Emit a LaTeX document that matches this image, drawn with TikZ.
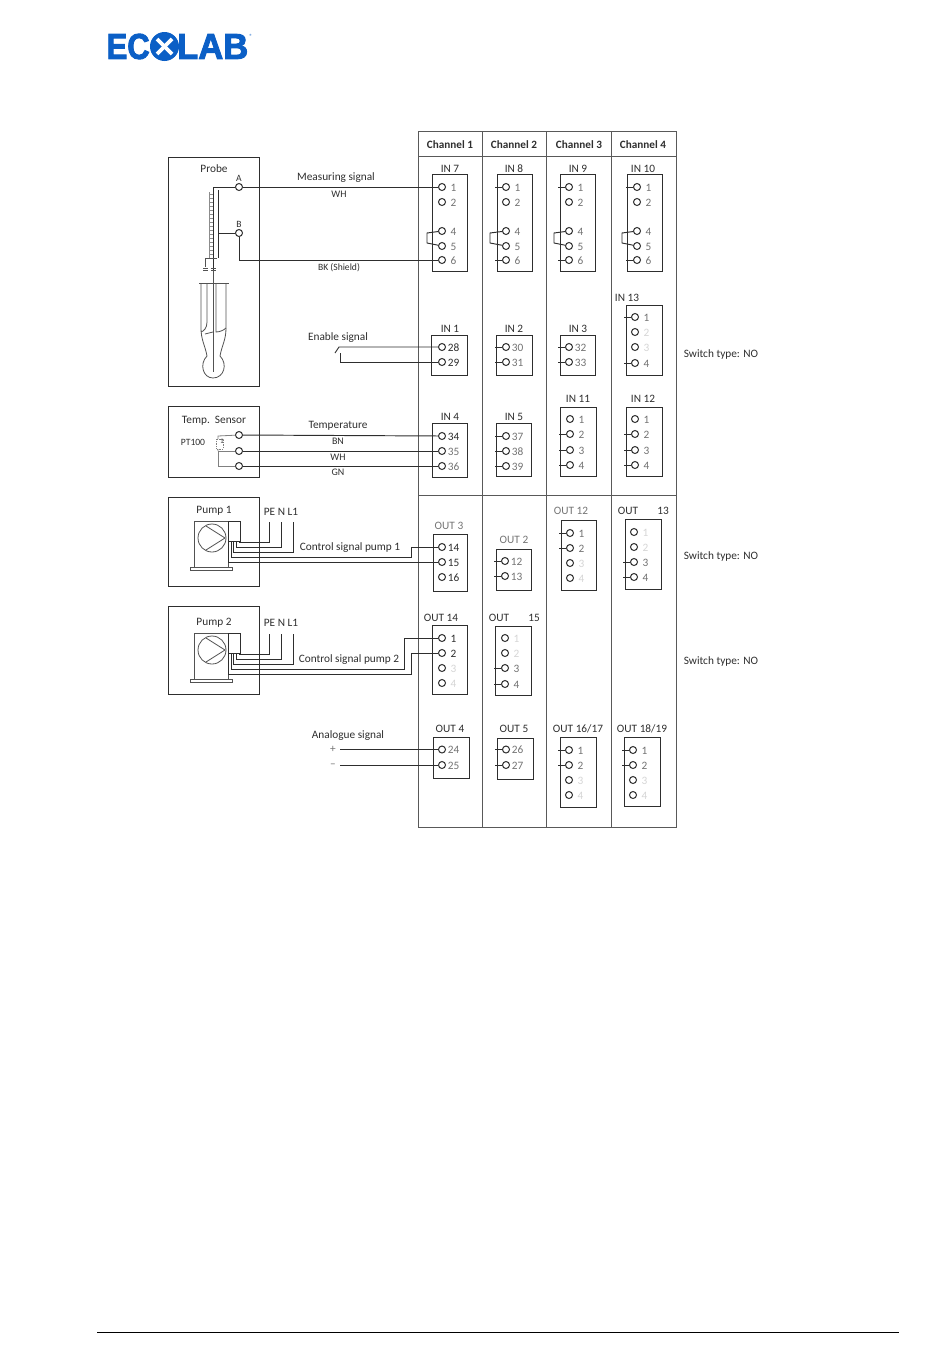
\documentclass[tikz,border=0pt]{standalone}
\usepackage{fontspec}
\setmainfont{Carlito}
\newfontfamily\logofont[BoldFeatures={FakeBold=2.6}]{Liberation Sans}
\usetikzlibrary{positioning}
\definecolor{logoblue}{HTML}{0B5FC6}
\definecolor{ink}{HTML}{2E2E2E}
\tikzset{
  tag/.style={font=\fontsize{11.3}{13}\selectfont,text=ink,inner sep=0pt,yshift=-.6pt},
  headtag/.style={tag,font=\fontsize{11.2}{13}\selectfont\bfseries},
  smalltag/.style={tag,font=\fontsize{9.6}{11}\selectfont},
  graytag/.style={tag,text=black!55},
  fainttag/.style={tag,text=black!16},
  pin/.style={circle,draw=ink,fill=white,line width=1pt,minimum size=7pt,inner sep=0pt},
  blockbox/.style={draw=ink,line width=1pt,fill=white,anchor=north west,inner sep=0pt},
  devicebox/.style={draw=ink,line width=1pt,anchor=north west,inner sep=0pt},
  wire/.style={draw=ink,line width=.95pt},
  thinwire/.style={draw=black!68,line width=.8pt},
  grid/.style={draw=black!65,line width=1pt}
}
% terminal: block-text, x, y, text, style of the text
\newcommand{\term}[5]{%
  \node[pin] (#1-#4) at (#2,#3) {};
  \node[#5] (#1-#4t) at (#2+11.5,#3) {#4};}
\newcommand{\stub}[1]{%
  \coordinate[left=7pt of #1] (#1s);
  \draw[wire] (#1s) -- (#1);}
\newcommand{\jumper}[3]{%
  \coordinate (#1a) at (#2,233);
  \coordinate (#1b) at (#2,243);
  \draw[wire] (#3-4) -- (#1a) -- (#1b) -- (#3-5);}
\begin{document}
\begin{tikzpicture}[x=1pt,y=-1pt]
  \useasboundingbox (0,0) rectangle (950,1360);

  %logo
  \node[anchor=west,inner sep=0pt,text=logoblue,font=\fontsize{36}{36}\logofont\bfseries,xscale=.86] (logoa) at (106.5,46.5) {EC};
  \node[anchor=west,inner sep=0pt,text=logoblue,font=\fontsize{36}{36}\logofont\bfseries,xscale=.96] (logob) at (177,46.5) {LAB};
  \fill[logoblue] (164.5,46.5) circle (14.5);
  \draw[white,line width=3.6pt] (157,39) -- (172,54);
  \draw[white,line width=3.6pt] (172,39) -- (157,54);
  \node[text=logoblue,inner sep=0pt,font=\fontsize{6}{6}\selectfont] (logor) at (251,36) {\textregistered};
  \draw[black,line width=.8pt] (97,1332) -- (899,1332);

  %tabla
  \draw[grid] (418,131) rectangle (676,827);
  \draw[grid] (482,131) -- (482,827);
  \draw[grid] (546,131) -- (546,827);
  \draw[grid] (611,131) -- (611,827);
  \draw[grid] (418,156) -- (676,156);
  \draw[grid] (418,495) -- (676,495);
  \node[headtag] (ch1) at (450,144) {Channel 1};
  \node[headtag] (ch2) at (514,144) {Channel 2};
  \node[headtag] (ch3) at (579,144) {Channel 3};
  \node[headtag] (ch4) at (643,144) {Channel 4};

  %switch type
  \node[tag] (swa) at (721,354) {Switch type: NO};
  \node[tag] (swb) at (721,556) {Switch type: NO};
  \node[tag] (swc) at (721,661) {Switch type: NO};

  %IN 7, 8, 9, 10
  \node[blockbox,minimum width=35pt,minimum height=97pt] (in7) at (432,174) {};
  \node[blockbox,minimum width=35pt,minimum height=97pt] (in8) at (497,174) {};
  \node[blockbox,minimum width=35pt,minimum height=97pt] (in9) at (560,174) {};
  \node[blockbox,minimum width=35pt,minimum height=97pt] (in10) at (627,174) {};
  \node[tag] (in7t) at (450,168) {IN 7};
  \node[tag] (in8t) at (514,168) {IN 8};
  \node[tag] (in9t) at (578,168) {IN 9};
  \node[tag] (in10t) at (643,168) {IN 10};
  \foreach \b/\x in {in7/442,in8/506,in9/569,in10/637}{
    \foreach \t/\y in {1/187,2/202,4/231,5/246,6/260}{
      \term{\b}{\x}{\y}{\t}{graytag}
    }
  }
  \foreach \b in {in8,in9,in10}{
    \stub{\b-1}
    \stub{\b-6}
  }
  \jumper{ja}{427}{in7}
  \jumper{jb}{490}{in8}
  \jumper{jc}{554}{in9}
  \jumper{jd}{622}{in10}

  %IN 1, 2, 3
  \node[blockbox,minimum width=36pt,minimum height=40pt] (in1) at (431,335) {};
  \node[blockbox,minimum width=36pt,minimum height=40pt] (in2) at (496,335) {};
  \node[blockbox,minimum width=35pt,minimum height=40pt] (in3) at (560,335) {};
  \node[tag] (in1t) at (450,328) {IN 1};
  \node[tag] (in2t) at (514,328) {IN 2};
  \node[tag] (in3t) at (578,328) {IN 3};
  \term{in1}{442}{347}{28}{tag}
  \term{in1}{442}{362}{29}{tag}
  \term{in2}{506}{347}{30}{graytag}
  \term{in2}{506}{362}{31}{graytag}
  \term{in3}{569}{347}{32}{graytag}
  \term{in3}{569}{362}{33}{graytag}
  \stub{in2-30}
  \stub{in2-31}
  \stub{in3-32}
  \stub{in3-33}

  %IN 13
  \node[blockbox,minimum width=36pt,minimum height=70pt] (in13) at (625.5,305) {};
  \node[tag] (in13t) at (627,297) {IN 13};
  \term{in13}{635}{317}{1}{graytag}
  \term{in13}{635}{332}{2}{fainttag}
  \term{in13}{635}{347}{3}{fainttag}
  \term{in13}{635}{363}{4}{graytag}
  \stub{in13-1}
  \stub{in13-4}

  %IN 4, 5
  \node[blockbox,minimum width=35pt,minimum height=54pt] (in4) at (432,423) {};
  \node[blockbox,minimum width=35pt,minimum height=53pt] (in5) at (496,423) {};
  \node[tag] (in4t) at (450,416) {IN 4};
  \node[tag] (in5t) at (514,416) {IN 5};
  \term{in4}{442}{436}{34}{tag}
  \term{in4}{442}{451}{35}{graytag}
  \term{in4}{442}{466}{36}{graytag}
  \term{in5}{506}{436}{37}{graytag}
  \term{in5}{506}{451}{38}{graytag}
  \term{in5}{506}{466}{39}{graytag}
  \stub{in5-37}
  \stub{in5-38}
  \stub{in5-39}

  %IN 11, 12
  \node[blockbox,minimum width=36pt,minimum height=69pt] (in11) at (560,407) {};
  \node[blockbox,minimum width=36pt,minimum height=69pt] (in12) at (626,407) {};
  \node[tag] (in11t) at (578,398) {IN 11};
  \node[tag] (in12t) at (643,398) {IN 12};
  \foreach \b/\x in {in11/570,in12/635}{
    \term{\b}{\x}{419}{1}{graytag}
    \term{\b}{\x}{434}{2}{graytag}
    \term{\b}{\x}{450}{3}{graytag}
    \term{\b}{\x}{465}{4}{graytag}
    \stub{\b-2}
    \stub{\b-3}
    \stub{\b-4}
  }

  %OUT 3, 2
  \node[blockbox,minimum width=34pt,minimum height=57pt] (out3) at (433,534) {};
  \node[blockbox,minimum width=35pt,minimum height=41pt] (out2) at (496,549) {};
  \node[graytag] (out3t) at (449,525) {OUT 3};
  \node[graytag] (out2t) at (514,539) {OUT 2};
  \term{out3}{442}{547}{14}{tag}
  \term{out3}{442}{562}{15}{tag}
  \term{out3}{442}{577}{16}{tag}
  \term{out2}{505}{561}{12}{graytag}
  \term{out2}{505}{576}{13}{graytag}
  \stub{out2-12}
  \stub{out2-13}

  %OUT 12, 13
  \node[blockbox,minimum width=35pt,minimum height=70pt] (out12) at (561,520) {};
  \node[blockbox,minimum width=36pt,minimum height=70pt] (out13) at (625,519) {};
  \node[graytag] (out12t) at (571,510) {OUT 12};
  \node[tag] (out13t) at (628,510) {OUT};
  \node[tag] (out13u) at (663,510) {13};
  \term{out12}{570}{533}{1}{graytag}
  \term{out12}{570}{548}{2}{graytag}
  \term{out12}{570}{563}{3}{fainttag}
  \term{out12}{570}{578}{4}{fainttag}
  \stub{out12-1}
  \stub{out12-2}
  \term{out13}{634}{532}{1}{fainttag}
  \term{out13}{634}{547}{2}{fainttag}
  \term{out13}{634}{562}{3}{graytag}
  \term{out13}{634}{577}{4}{graytag}
  \stub{out13-3}
  \stub{out13-4}

  %OUT 14, 15
  \node[blockbox,minimum width=35pt,minimum height=69pt] (out14) at (432,625) {};
  \node[blockbox,minimum width=36pt,minimum height=69pt] (out15) at (495,626) {};
  \node[tag] (out14t) at (441,617) {OUT 14};
  \node[tag] (out15t) at (499,617) {OUT};
  \node[tag] (out15u) at (534,617) {15};
  \term{out14}{442}{638}{1}{tag}
  \term{out14}{442}{653}{2}{tag}
  \term{out14}{442}{668}{3}{fainttag}
  \term{out14}{442}{683}{4}{fainttag}
  \term{out15}{505}{638}{1}{fainttag}
  \term{out15}{505}{653}{2}{fainttag}
  \term{out15}{505}{668}{3}{graytag}
  \term{out15}{505}{684}{4}{graytag}
  \stub{out15-3}
  \stub{out15-4}

  %OUT 4, 5
  \node[blockbox,minimum width=36pt,minimum height=41pt] (out4) at (433,737) {};
  \node[blockbox,minimum width=36pt,minimum height=41pt] (out5) at (497,738) {};
  \node[tag] (out4t) at (450,728) {OUT 4};
  \node[tag] (out5t) at (514,728) {OUT 5};
  \term{out4}{442}{749.5}{24}{graytag}
  \term{out4}{442}{765}{25}{graytag}
  \term{out5}{506}{749.5}{26}{graytag}
  \term{out5}{506}{765}{27}{graytag}
  \stub{out5-26}
  \stub{out5-27}

  %OUT 16/17, 18/19
  \node[blockbox,minimum width=36pt,minimum height=70pt] (out16) at (560,737) {};
  \node[blockbox,minimum width=36pt,minimum height=69pt] (out18) at (624,737) {};
  \node[tag] (out16t) at (578,728) {OUT 16/17};
  \node[tag] (out18t) at (642,728) {OUT 18/19};
  \foreach \b/\x in {out16/569,out18/633}{
    \term{\b}{\x}{750}{1}{graytag}
    \term{\b}{\x}{765}{2}{graytag}
    \term{\b}{\x}{780}{3}{fainttag}
    \term{\b}{\x}{795}{4}{fainttag}
    \stub{\b-1}
    \stub{\b-2}
  }

  %sonda
  \node[devicebox,minimum width=91pt,minimum height=229pt] (probe) at (168,157) {};
  \node[tag] (probet) at (214,168) {Probe};
  \node[smalltag] (at) at (239,178) {A};
  \node[smalltag] (bt) at (239,224) {B};
  \node[pin] (pa) at (239,187) {};
  \node[pin] (pb) at (239,233) {};
  \coordinate (pac) at (213,187);
  \coordinate (pbc) at (218,233);
  \coordinate (pbd) at (239,260);
  \draw[thinwire,black!45,line width=.6pt] (209,192) -- (209,258);
  \foreach \y in {194,198,...,256}{
    \draw[black!45,line width=.3pt] (209,\y) -- (213,\y);
  }
  \draw[wire] (pa) -- (in7-1);
  \draw[wire] (pb) -- (pbd) -- (in7-6);
  \draw[wire] (pa) -- (pac) -- (213,270);
  \draw[wire] (pb) -- (pbc);
  \draw[wire] (218,190) -- (218,258);
  \draw[thinwire] (217,258) -- (205,258) -- (205,267);
  \draw[thinwire] (203,268) -- (208,268);
  \draw[thinwire] (203,270) -- (208,270);
  \draw[thinwire] (211,268) -- (216,268);
  \draw[thinwire] (211,270) -- (216,270);
  \draw[thinwire,line width=1pt] (213,270) -- (213,372);
  \draw[thinwire] (199,283) -- (229,283);
  \draw[thinwire] (201,283) -- (201,328) .. controls (201,340) and (205,345) .. (207,356);
  \draw[thinwire] (226,283) -- (226,328) .. controls (226,340) and (222,345) .. (220,356);
  \draw[thinwire] (207,356) .. controls (199,364) and (203,378) .. (213,378) .. controls (224,378) and (228,364) .. (220,356);
  \draw[thinwire] (207,283) -- (207,322) .. controls (207,328) and (204,331) .. (201,332);
  \draw[thinwire] (216,283) -- (216,332) .. controls (220,332) and (224,330) .. (226,328);
  \draw[thinwire] (205,334) -- (213,332);

  %textos sonda
  \node[tag] (msig) at (336,177) {Measuring signal};
  \node[tag,font=\fontsize{10}{11}\selectfont] (mwh) at (339,194) {WH};
  \node[smalltag] (mbk) at (339,267) {BK (Shield)};

  %enable signal
  \node[tag] (ensig) at (338,337) {Enable signal};
  \coordinate (ena) at (339,347);
  \coordinate (enb) at (335,353);
  \coordinate (enc) at (340,353);
  \coordinate (end) at (340,362);
  \draw[wire] (in1-28) -- (ena) -- (enb);
  \draw[wire] (enc) -- (end) -- (in1-29);

  %sensor
  \node[devicebox,minimum width=91pt,minimum height=71pt] (temp) at (168,406) {};
  \node[tag] (tempt) at (214,420) {Temp.\ \ Sensor};
  \node[smalltag] (pt) at (193,442) {PT100};
  \node[pin] (sa) at (239,435) {};
  \node[pin] (sb) at (239,451) {};
  \node[pin] (sc) at (239,466) {};
  \draw[wire] (sa) -- (in4-34);
  \draw[wire] (sb) -- (in4-35);
  \draw[wire] (sc) -- (in4-36);
  \draw[thinwire,black!50] (sb) -- (218,451) -- (218,466) -- (sc);
  \draw[thinwire,black!50] (218,451) -- (218,436) -- (sa);
  \draw[thinwire,black!50,densely dotted,fill=white] (216,439) rectangle (223,449);
  \node[tag,font=\fontsize{7}{8}\selectfont] (rt) at (222,441) {1};
  \node[tag] (tsig) at (338,425) {Temperature};
  \node[tag,font=\fontsize{10}{11}\selectfont] (tbn) at (338,441) {BN};
  \node[tag,font=\fontsize{10}{11}\selectfont] (twh) at (338,457) {WH};
  \node[tag,font=\fontsize{10}{11}\selectfont] (tgn) at (338,472) {GN};

  %bombas
  \node[devicebox,minimum width=91pt,minimum height=89pt] (pump1) at (168,497) {};
  \node[devicebox,minimum width=91pt,minimum height=88pt] (pump2) at (168,606) {};
  \node[tag] (pump1t) at (214,510) {Pump 1};
  \node[tag] (pump2t) at (214,622) {Pump 2};
  \node[tag] (mains1) at (281,511) {PE N L1};
  \node[tag] (mains2) at (281,622) {PE N L1};
  \foreach \p/\d in {1/0,2/112}{
    \begin{scope}[yshift=-\d pt]
      \draw[thinwire] (194,567) -- (194,521) -- (228,521) -- (228,567);
      \draw[thinwire,line width=1pt] (190,567) rectangle (232,570);
      \draw[thinwire] (212,538) circle (14);
      \draw[thinwire] (206,526) -- (225,538) -- (206,550);
      \node[devicebox,fill=white,minimum width=12pt,minimum height=20pt] (jb\p) at (228,521) {};
      \draw[wire] (239,541) -- (239,542) -- (269,542) -- (269,522);
      \draw[wire] (236,541) -- (236,547) -- (281,547) -- (281,522);
      \draw[wire] (233,541) -- (233,552) -- (293,552) -- (293,522);
    \end{scope}
  }
  \coordinate (ca) at (411,557);
  \coordinate (cb) at (231,557);
  \coordinate (cc) at (228,562);
  \draw[wire] (231,541) -- (cb) -- (ca) |- (out3-14);
  \draw[wire] (228,541) -- (cc) -- (out3-15);
  \coordinate (cd) at (404,669);
  \coordinate (ce) at (231,669);
  \coordinate (cf) at (411,674);
  \coordinate (cg) at (228,674);
  \draw[wire] (231,653) -- (ce) -- (cd) |- (out14-1);
  \draw[wire] (228,653) -- (cg) -- (cf) |- (out14-2);
  \node[tag] (ctl1) at (350,547) {Control signal pump 1};
  \node[tag] (ctl2) at (349,659) {Control signal pump 2};

  %analog
  \node[tag] (ansig) at (348,735) {Analogue signal};
  \node[graytag] (plus) at (333,749) {+};
  \node[graytag] (minus) at (333,765) {--};
  \coordinate (ana) at (340,749.5);
  \coordinate (anb) at (340,765);
  \draw[wire,line width=.7pt] (ana) -- (out4-24);
  \draw[wire] (anb) -- (out4-25);
\end{tikzpicture}
\end{document}
